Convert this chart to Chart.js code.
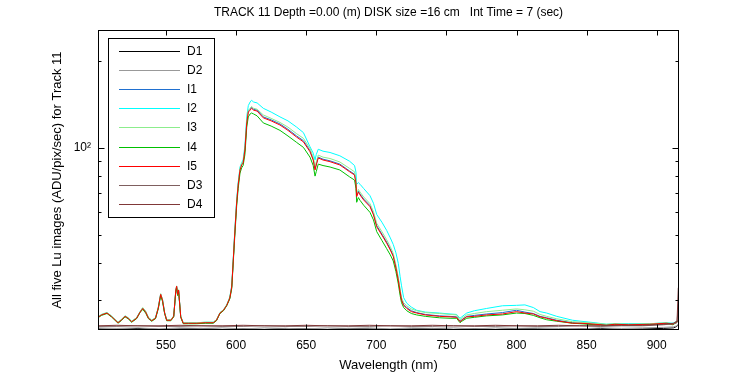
<!DOCTYPE html>
<html>
<head>
<meta charset="utf-8">
<script src="https://cdn.jsdelivr.net/npm/chart.js@4/dist/chart.umd.min.js"></script>
<style>
  html, body { margin: 0; padding: 0; background: #fff; }
  #chart { display: block; }
</style>
</head>
<body>
<canvas id="chart" width="750" height="375"></canvas>
<script>
// wavelengths (nm) for the five light images, 10 per row
const wavelength = [
  501.5, 504, 507.9, 511, 515.8, 518, 520.8, 523, 525.5, 529,
  531.5, 533.4, 535.5, 537.5, 539.8, 542.5, 544.5, 546.2, 547.5, 549,
  550.5, 553.5, 555.5, 557, 557.6, 558.3, 559, 560.5, 562.3, 566,
  572, 578, 583.7, 586, 588.5, 591, 593.3, 595.5, 596.9, 598,
  599, 600.4, 601.5, 602.8, 604, 605, 606.3, 607.6, 608.7, 610,
  611, 612.5, 615, 619.4, 625, 631.3, 637, 643.2, 648, 652.7,
  655, 656.3, 657.2, 658.6, 662, 667, 674, 681, 684.5, 685.5,
  686, 687.2, 688.4, 691, 695.5, 698, 700.3, 704, 707.4, 710,
  712.1, 714, 715.7, 717, 718, 719.5, 721.7, 725, 728.8, 735,
  745, 752.6, 757.3, 759.7, 761, 764.5, 770, 778.7, 790, 800,
  806, 812, 816.8, 821.5, 828.7, 840, 846, 856, 864, 870,
  880, 895, 907, 911.6, 914.3, 915.9
];

const i1 = [
  26.1, 26.6, 27.0, 26.3, 25.0, 25.5, 26.3, 25.9, 25.2, 25.9,
  27.2, 28.1, 27.3, 26.0, 25.4, 25.9, 28.2, 31.4, 30.0, 27.1,
  25.5, 25.5, 26.3, 32.3, 33.3, 31.2, 32.3, 26.2, 24.9, 24.9,
  24.9, 25.0, 25.0, 25.5, 27.0, 27.6, 28.7, 30.4, 33.3, 41.3,
  50.5, 65.0, 75.0, 84.5, 88.0, 89.2, 99.0, 123, 134, 136,
  138, 136, 135, 128, 125, 121, 116, 110, 106, 98.0,
  91.5, 85.0, 88.0, 93.0, 91.5, 90.3, 88.0, 83.3, 81.2, 76.2,
  68.5, 71.0, 69.4, 66.7, 63.3, 59.3, 54.0, 50.5, 47.4, 44.9,
  42.6, 38.9, 35.3, 32.1, 30.1, 28.9, 28.2, 27.5, 27.1, 26.7,
  26.4, 26.3, 26.2, 25.3, 25.6, 26.3, 26.5, 26.8, 27.1, 27.6,
  27.2, 26.9, 26.3, 26.0, 25.5, 25.0, 24.9, 24.7, 24.6, 24.7,
  24.7, 24.7, 24.9, 24.8, 25.2, 25.6
];

const i2 = [
  26.2, 26.7, 27.1, 26.4, 25.1, 25.6, 26.4, 26.0, 25.3, 26.0,
  27.3, 28.1, 27.3, 26.0, 25.5, 26.0, 28.2, 31.2, 30.0, 27.1,
  25.6, 25.6, 26.4, 32.2, 33.2, 31.2, 32.2, 26.3, 25.0, 25.0,
  25.0, 25.1, 25.1, 25.6, 27.1, 27.7, 28.8, 30.6, 33.6, 41.5,
  51.0, 66.0, 76.0, 86.0, 89.0, 91.0, 102, 128, 140, 144,
  146, 144, 143, 137, 133, 128, 124, 118, 113, 101,
  96.0, 91.0, 95.0, 99.0, 97.5, 96.5, 94.0, 90.0, 87.0, 82.5,
  75.0, 76.0, 75.0, 72.5, 68.5, 64.5, 59.0, 55.5, 52.0, 49.0,
  46.5, 43.5, 40.0, 36.0, 33.5, 30.5, 29.2, 28.3, 27.6, 27.2,
  27.0, 26.8, 26.7, 25.9, 26.2, 27.0, 27.5, 28.0, 28.6, 28.7,
  28.8, 28.2, 27.3, 27.0, 26.3, 25.5, 25.3, 25.0, 24.7, 24.8,
  24.8, 24.8, 25.0, 24.9, 25.3, 25.6
];

const i3 = [
  26.2, 26.7, 27.1, 26.4, 25.1, 25.6, 26.4, 26.0, 25.3, 26.0,
  27.3, 28.2, 27.4, 26.1, 25.5, 26.0, 28.3, 31.5, 30.1, 27.2,
  25.6, 25.6, 26.4, 32.5, 33.5, 31.4, 32.5, 26.3, 25.0, 25.0,
  25.0, 25.1, 25.1, 25.6, 27.1, 27.7, 28.8, 30.6, 33.4, 41.6,
  51.0, 65.5, 75.5, 85.0, 88.5, 90.0, 99.5, 124, 135, 137,
  139, 137, 136, 130, 126.5, 122.5, 118, 112, 108, 99.5,
  93.0, 86.5, 89.5, 94.5, 93.0, 92.0, 89.5, 85.0, 82.8, 77.5,
  69.5, 72.0, 70.5, 67.8, 64.3, 60.3, 55.0, 51.5, 48.3, 45.7,
  43.3, 39.5, 35.8, 32.6, 30.5, 29.3, 28.6, 27.9, 27.5, 27.1,
  26.9, 26.7, 26.6, 25.6, 25.9, 26.6, 26.9, 27.3, 27.6, 27.9,
  27.7, 27.4, 26.7, 26.3, 25.8, 25.2, 25.1, 24.9, 24.7, 24.8,
  24.7, 24.8, 25.0, 24.8, 25.3, 25.7
];

const i4 = [
  26.0, 26.5, 26.9, 26.2, 24.9, 25.4, 26.2, 25.8, 25.1, 25.8,
  27.1, 27.8, 27.0, 25.8, 25.3, 25.8, 27.9, 31.0, 29.6, 26.9,
  25.4, 25.4, 26.2, 32.0, 33.0, 31.0, 32.0, 26.1, 24.8, 24.8,
  24.8, 24.9, 24.9, 25.4, 26.9, 27.5, 28.6, 30.2, 32.8, 40.5,
  49.0, 63.0, 72.5, 82.0, 85.5, 87.0, 95.0, 118, 128, 131,
  132, 131, 129, 122, 119, 115, 110, 104.5, 100.5, 93.0,
  87.0, 80.0, 83.0, 88.0, 87.0, 86.0, 84.0, 79.5, 77.5, 72.5,
  65.0, 67.5, 66.0, 63.5, 60.0, 56.5, 51.5, 48.0, 45.0, 42.8,
  40.8, 37.5, 34.0, 31.0, 29.3, 28.2, 27.5, 26.9, 26.6, 26.3,
  26.0, 25.9, 25.9, 25.0, 25.3, 25.9, 26.1, 26.4, 26.6, 27.0,
  26.9, 26.5, 26.0, 25.6, 25.3, 24.9, 24.8, 24.6, 24.5, 24.6,
  24.5, 24.6, 24.8, 24.6, 25.1, 25.5
];

const i5 = [
  26.1, 26.6, 27.0, 26.3, 25.0, 25.5, 26.3, 25.9, 25.2, 25.9,
  27.2, 28.0, 27.2, 25.9, 25.4, 25.9, 28.1, 31.3, 29.9, 27.0,
  25.5, 25.5, 26.3, 32.4, 33.4, 31.3, 32.4, 26.2, 24.9, 24.9,
  24.9, 25.0, 25.0, 25.5, 27.0, 27.6, 28.7, 30.4, 33.2, 41.1,
  50.1, 64.6, 74.5, 84.0, 87.4, 88.7, 98.4, 122, 133, 135,
  137, 135, 134, 127, 124, 120, 115, 109, 105, 97.1,
  90.9, 84.0, 87.4, 92.4, 90.9, 89.7, 87.4, 82.8, 80.7, 75.7,
  68.0, 70.5, 68.9, 66.2, 62.8, 58.8, 53.5, 50.1, 47.0, 44.5,
  42.3, 38.6, 35.0, 31.9, 29.9, 28.7, 28.0, 27.3, 27.0, 26.6,
  26.3, 26.2, 26.1, 25.2, 25.5, 26.2, 26.3, 26.6, 26.8, 27.3,
  27.0, 26.8, 26.2, 25.9, 25.4, 24.9, 24.9, 24.7, 24.5, 24.7,
  24.6, 24.7, 24.9, 24.7, 25.2, 25.6
];

// dark frames, coarser sampling
const darkWavelength = [
  501.5, 515, 530, 545, 560, 575, 590, 605, 620, 635,
  650, 665, 680, 695, 710, 725, 740, 755, 770, 785,
  800, 815, 830, 845, 860, 875, 890, 905, 912, 914.5, 915.4
];
const d1 = [
  23.8, 23.7, 23.9, 23.7, 23.8, 23.9, 23.7, 23.8, 23.7, 23.9,
  23.8, 23.7, 23.9, 23.8, 23.7, 23.8, 23.9, 23.7, 23.8, 23.7,
  23.9, 23.8, 23.7, 23.8, 23.9, 23.7, 23.8, 23.9, 24.0, 24.3, 24.6
];
const d2 = [
  24.0, 23.9, 24.0, 23.8, 24.0, 23.9, 24.0, 23.8, 24.0, 23.9,
  23.8, 24.0, 23.9, 24.0, 23.8, 24.0, 23.9, 24.0, 23.8, 24.0,
  23.9, 24.0, 23.9, 23.8, 24.0, 23.9, 24.0, 24.1, 24.2, 24.4, 24.8
];
const d3 = [
  24.3, 24.3, 24.4, 24.3, 24.3, 24.4, 24.3, 24.3, 24.4, 24.3,
  24.3, 24.4, 24.3, 24.3, 24.4, 24.3, 24.3, 24.4, 24.3, 24.3,
  24.4, 24.3, 24.3, 24.4, 24.3, 24.4, 24.4, 24.6, 24.8, 25.0, 29.0
];
const d4 = [
  24.4, 24.5, 24.4, 24.4, 24.5, 24.4, 24.4, 24.5, 24.4, 24.4,
  24.5, 24.4, 24.4, 24.5, 24.4, 24.4, 24.5, 24.4, 24.4, 24.5,
  24.4, 24.4, 24.5, 24.4, 24.4, 24.5, 24.5, 24.7, 24.9, 25.3, 33.0
];

const seriesNames = ['D1', 'D2', 'I1', 'I2', 'I3', 'I4', 'I5', 'D3', 'D4'];
const seriesColors = ['#000000', '#999999', '#2070d0', '#00ffff', '#8ced8c', '#00c000', '#ff0000', '#7f5f5f', '#803838'];

const xTicks = [550, 600, 650, 700, 750, 800, 850, 900];
const yMajorTicks = [100];
const yMinorTicks = [30, 40, 50, 60, 70, 80, 90, 200];

const FONT = 'Liberation Sans, Arial, Helvetica, sans-serif';

function pts(xs, ys) {
  return xs.map((x, k) => ({x: x, y: ys[k]}));
}

const seriesData = [
  pts(darkWavelength, d1), pts(darkWavelength, d2),
  pts(wavelength, i1), pts(wavelength, i2), pts(wavelength, i3),
  pts(wavelength, i4), pts(wavelength, i5),
  pts(darkWavelength, d3), pts(darkWavelength, d4)
];

const datasets = seriesNames.map((name, k) => ({
  label: name,
  data: seriesData[k],
  borderColor: seriesColors[k],
  backgroundColor: seriesColors[k],
  borderWidth: 1,
  pointRadius: 0,
  tension: 0,
  fill: false,
  order: seriesNames.length - k   // later series on top, like the original
}));

// frame, inward ticks and the boxed legend
const axesDecor = {
  id: 'axesDecor',
  afterDatasetsDraw(chart) {
    const ctx = chart.ctx;
    const a = chart.chartArea;
    const xs = chart.scales.x, ys = chart.scales.y;
    const L = Math.round(a.left) + 0.5, R = Math.round(a.right) - 0.5;
    const T = Math.round(a.top) + 0.5, B = Math.round(a.bottom) - 0.5;
    ctx.save();
    ctx.strokeStyle = '#000';
    ctx.lineWidth = 1;
    ctx.beginPath();
    xTicks.forEach(v => {
      const px = Math.round(xs.getPixelForValue(v)) + 0.5;
      ctx.moveTo(px, B); ctx.lineTo(px, B - 5);
      ctx.moveTo(px, T); ctx.lineTo(px, T + 5);
    });
    yMajorTicks.forEach(v => {
      const py = Math.round(ys.getPixelForValue(v)) + 0.5;
      ctx.moveTo(L, py); ctx.lineTo(L + 6, py);
      ctx.moveTo(R, py); ctx.lineTo(R - 6, py);
    });
    yMinorTicks.forEach(v => {
      const py = Math.round(ys.getPixelForValue(v)) + 0.5;
      ctx.moveTo(L, py); ctx.lineTo(L + 3, py);
      ctx.moveTo(R, py); ctx.lineTo(R - 3, py);
    });
    ctx.stroke();
    ctx.strokeRect(L, T, R - L, B - T);

    // legend box
    const bx = 108.5, by = 38.5, bw = 106, bh = 179;
    ctx.fillStyle = '#fff';
    ctx.fillRect(bx, by, bw, bh);
    ctx.strokeRect(bx, by, bw, bh);
    ctx.font = '12px ' + FONT;
    ctx.textBaseline = 'middle';
    ctx.textAlign = 'left';
    chart.data.datasets.forEach((ds, k) => {
      const yy = Math.round(51 + k * 19.1) + 0.5;
      ctx.strokeStyle = ds.borderColor;
      ctx.beginPath();
      ctx.moveTo(119, yy); ctx.lineTo(180, yy);
      ctx.stroke();
      ctx.fillStyle = '#000';
      ctx.fillText(ds.label, 187, yy);
    });
    ctx.restore();
  }
};

new Chart(document.getElementById('chart').getContext('2d'), {
  type: 'line',
  data: {datasets: datasets},
  options: {
    responsive: false,
    animation: false,
    devicePixelRatio: 1,
    layout: {padding: {left: 0, right: 71, top: 0, bottom: 0}},
    plugins: {
      legend: {display: false},
      tooltip: {enabled: false},
      title: {
        display: true,
        fullSize: false,
        text: 'TRACK 11 Depth =0.00 (m) DISK size =16 cm   Int Time = 7 (sec)',
        color: '#000',
        font: {family: FONT, size: 12, weight: 'normal'},
        padding: {top: 5, bottom: 10.6}
      }
    },
    scales: {
      x: {
        type: 'linear',
        min: 501.5,
        max: 915.9,
        grid: {display: false, drawTicks: false},
        border: {display: false},
        afterBuildTicks: s => { s.ticks = xTicks.map(v => ({value: v})); },
        afterFit: s => { s.height = 45; },
        ticks: {color: '#000', font: {family: FONT, size: 12}, padding: 8, maxRotation: 0, autoSkip: false},
        title: {
          display: true,
          text: 'Wavelength (nm)',
          color: '#000',
          font: {family: FONT, size: 13},
          padding: {top: 0, bottom: 2}
        }
      },
      y: {
        type: 'logarithmic',
        min: 23.6,
        max: 255,
        grid: {display: false, drawTicks: false},
        border: {display: false},
        afterBuildTicks: s => { s.ticks = yMajorTicks.concat(yMinorTicks).map(v => ({value: v})); },
        afterFit: s => { s.width = 98; },
        ticks: {
          color: '#000',
          font: {family: FONT, size: 12},
          padding: 7,
          autoSkip: false,
          callback: v => (yMajorTicks.includes(v) ? '10\u00b2' : '')
        },
        title: {
          display: true,
          text: 'All five Lu images (ADU/pix/sec) for Track 11',
          color: '#000',
          font: {family: FONT, size: 13},
          padding: {top: 50, bottom: 0}
        }
      }
    }
  },
  plugins: [axesDecor]
});
</script>
</body>
</html>
